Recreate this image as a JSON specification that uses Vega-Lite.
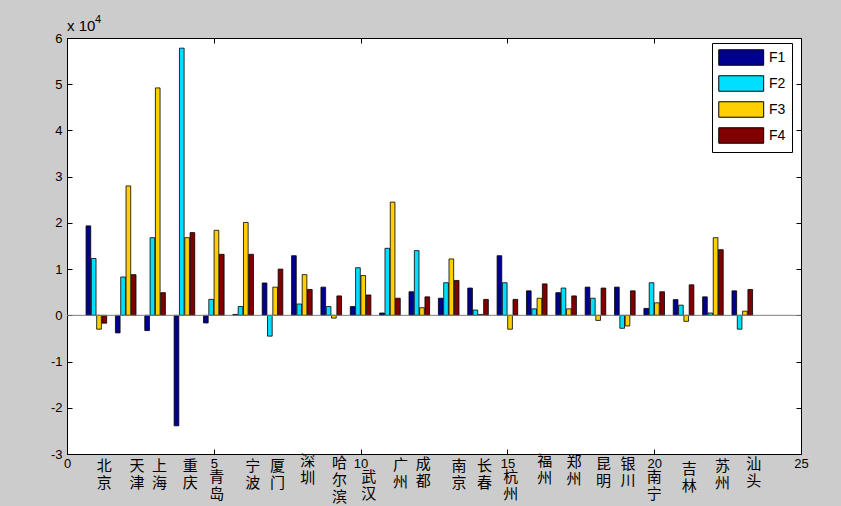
{
  "$schema": "https://vega.github.io/schema/vega-lite/v6.json",
  "width": 734,
  "height": 416,
  "autosize": "none",
  "padding": {"left": 67, "top": 38, "right": 40, "bottom": 52},
  "background": "#cccccc",
  "config": {
    "view": {"stroke": "#000000", "strokeWidth": 1, "fill": "#ffffff"},
    "axis": {"grid": false, "domain": false, "tickColor": "#000000", "tickSize": -5, "labelFont": "Liberation Sans", "labelFontSize": 13, "labelColor": "#000000", "title": null}
  },
  "datasets": {
    "bars": [
      {"city":"北京","pos":1,"series":"F1","value":19350},{"city":"北京","pos":1,"series":"F2","value":12300},{"city":"北京","pos":1,"series":"F3","value":-3000},{"city":"北京","pos":1,"series":"F4","value":-1700},
      {"city":"天津","pos":2,"series":"F1","value":-3800},{"city":"天津","pos":2,"series":"F2","value":8300},{"city":"天津","pos":2,"series":"F3","value":28000},{"city":"天津","pos":2,"series":"F4","value":8800},
      {"city":"上海","pos":3,"series":"F1","value":-3300},{"city":"上海","pos":3,"series":"F2","value":16800},{"city":"上海","pos":3,"series":"F3","value":49200},{"city":"上海","pos":3,"series":"F4","value":4900},
      {"city":"重庆","pos":4,"series":"F1","value":-23900},{"city":"重庆","pos":4,"series":"F2","value":57800},{"city":"重庆","pos":4,"series":"F3","value":16800},{"city":"重庆","pos":4,"series":"F4","value":17900},
      {"city":"青岛","pos":5,"series":"F1","value":-1650},{"city":"青岛","pos":5,"series":"F2","value":3450},{"city":"青岛","pos":5,"series":"F3","value":18400},{"city":"青岛","pos":5,"series":"F4","value":13200},
      {"city":"宁波","pos":6,"series":"F1","value":200},{"city":"宁波","pos":6,"series":"F2","value":1900},{"city":"宁波","pos":6,"series":"F3","value":20100},{"city":"宁波","pos":6,"series":"F4","value":13200},
      {"city":"厦门","pos":7,"series":"F1","value":7000},{"city":"厦门","pos":7,"series":"F2","value":-4500},{"city":"厦门","pos":7,"series":"F3","value":6100},{"city":"厦门","pos":7,"series":"F4","value":10000},
      {"city":"深圳","pos":8,"series":"F1","value":12900},{"city":"深圳","pos":8,"series":"F2","value":2450},{"city":"深圳","pos":8,"series":"F3","value":8800},{"city":"深圳","pos":8,"series":"F4","value":5600},
      {"city":"哈尔滨","pos":9,"series":"F1","value":6100},{"city":"哈尔滨","pos":9,"series":"F2","value":1900},{"city":"哈尔滨","pos":9,"series":"F3","value":-600},{"city":"哈尔滨","pos":9,"series":"F4","value":4200},
      {"city":"武汉","pos":10,"series":"F1","value":1900},{"city":"武汉","pos":10,"series":"F2","value":10300},{"city":"武汉","pos":10,"series":"F3","value":8600},{"city":"武汉","pos":10,"series":"F4","value":4400},
      {"city":"广州","pos":11,"series":"F1","value":500},{"city":"广州","pos":11,"series":"F2","value":14500},{"city":"广州","pos":11,"series":"F3","value":24500},{"city":"广州","pos":11,"series":"F4","value":3700},
      {"city":"成都","pos":12,"series":"F1","value":5100},{"city":"成都","pos":12,"series":"F2","value":14000},{"city":"成都","pos":12,"series":"F3","value":1650},{"city":"成都","pos":12,"series":"F4","value":4000},
      {"city":"南京","pos":13,"series":"F1","value":3700},{"city":"南京","pos":13,"series":"F2","value":7050},{"city":"南京","pos":13,"series":"F3","value":12200},{"city":"南京","pos":13,"series":"F4","value":7550},
      {"city":"长春","pos":14,"series":"F1","value":5900},{"city":"长春","pos":14,"series":"F2","value":1150},{"city":"长春","pos":14,"series":"F3","value":200},{"city":"长春","pos":14,"series":"F4","value":3450},
      {"city":"杭州","pos":15,"series":"F1","value":12900},{"city":"杭州","pos":15,"series":"F2","value":7050},{"city":"杭州","pos":15,"series":"F3","value":-3000},{"city":"杭州","pos":15,"series":"F4","value":3450},
      {"city":"福州","pos":16,"series":"F1","value":5300},{"city":"福州","pos":16,"series":"F2","value":1400},{"city":"福州","pos":16,"series":"F3","value":3700},{"city":"福州","pos":16,"series":"F4","value":6800},
      {"city":"郑州","pos":17,"series":"F1","value":4900},{"city":"郑州","pos":17,"series":"F2","value":5900},{"city":"郑州","pos":17,"series":"F3","value":1400},{"city":"郑州","pos":17,"series":"F4","value":4200},
      {"city":"昆明","pos":18,"series":"F1","value":6100},{"city":"昆明","pos":18,"series":"F2","value":3700},{"city":"昆明","pos":18,"series":"F3","value":-1100},{"city":"昆明","pos":18,"series":"F4","value":5900},
      {"city":"银川","pos":19,"series":"F1","value":6100},{"city":"银川","pos":19,"series":"F2","value":-2800},{"city":"银川","pos":19,"series":"F3","value":-2300},{"city":"银川","pos":19,"series":"F4","value":5300},
      {"city":"南宁","pos":20,"series":"F1","value":1500},{"city":"南宁","pos":20,"series":"F2","value":7050},{"city":"南宁","pos":20,"series":"F3","value":2700},{"city":"南宁","pos":20,"series":"F4","value":5100},
      {"city":"吉林","pos":21,"series":"F1","value":3400},{"city":"吉林","pos":21,"series":"F2","value":2200},{"city":"吉林","pos":21,"series":"F3","value":-1300},{"city":"吉林","pos":21,"series":"F4","value":6600},
      {"city":"苏州","pos":22,"series":"F1","value":4000},{"city":"苏州","pos":22,"series":"F2","value":500},{"city":"苏州","pos":22,"series":"F3","value":16800},{"city":"苏州","pos":22,"series":"F4","value":14200},
      {"city":"汕头","pos":23,"series":"F1","value":5300},{"city":"汕头","pos":23,"series":"F2","value":-3000},{"city":"汕头","pos":23,"series":"F3","value":900},{"city":"汕头","pos":23,"series":"F4","value":5600}
    ],
    "labels": [
      {"label":"北\n京","lx":1.27,"ly":-31100},
      {"label":"天\n津","lx":2.38,"ly":-31100},
      {"label":"上\n海","lx":3.15,"ly":-31100},
      {"label":"重\n庆","lx":4.2,"ly":-31100},
      {"label":"青\n岛","lx":5.1,"ly":-33450},
      {"label":"宁\n波","lx":6.33,"ly":-31100},
      {"label":"厦\n门","lx":7.17,"ly":-31100},
      {"label":"深\n圳","lx":8.2,"ly":-30050},
      {"label":"哈\n尔\n滨","lx":9.28,"ly":-30430},
      {"label":"武\n汉","lx":10.28,"ly":-33450},
      {"label":"广\n州","lx":11.36,"ly":-30870},
      {"label":"成\n都","lx":12.13,"ly":-30580},
      {"label":"南\n京","lx":13.35,"ly":-31100},
      {"label":"长\n春","lx":14.22,"ly":-31100},
      {"label":"杭\n州","lx":15.11,"ly":-33450},
      {"label":"福\n州","lx":16.27,"ly":-30050},
      {"label":"郑\n州","lx":17.27,"ly":-30220},
      {"label":"昆\n明","lx":18.27,"ly":-30580},
      {"label":"银\n川","lx":19.11,"ly":-30580},
      {"label":"南\n宁","lx":20.0,"ly":-33450},
      {"label":"吉\n林","lx":21.19,"ly":-31670},
      {"label":"苏\n州","lx":22.33,"ly":-31100},
      {"label":"汕\n头","lx":23.39,"ly":-30580}
    ]
  },
  "layer": [
    {
      "data": {"name": "bars"},
      "mark": {"type": "bar", "stroke": "#000000", "strokeWidth": 0.8},
      "encoding": {
        "x": {"field": "pos", "type": "ordinal", "axis": null,
              "scale": {"type": "band", "domain": [1,2,3,4,5,6,7,8,9,10,11,12,13,14,15,16,17,18,19,20,21,22,23], "paddingInner": 0, "paddingOuter": 1, "align": 0.25}},
        "xOffset": {"field": "series", "type": "nominal", "scale": {"paddingInner": 0.12, "paddingOuter": 0.825}},
        "y": {"field": "value", "type": "quantitative", "axis": null, "scale": {"domain": [-30000, 60000], "nice": false, "zero": false}},
        "color": {"field": "series", "type": "nominal",
                  "scale": {"domain": ["F1","F2","F3","F4"], "range": ["#00008f","#00dfff","#ffcf00","#800000"]},
                  "legend": {"title": null, "orient": "none", "legendX": 645, "legendY": 5,
                             "symbolType": "M-1,-1H4.8V1H-1Z", "symbolSize": 240, "symbolStrokeColor": "#000000", "symbolStrokeWidth": 1, "symbolOpacity": 1,
                             "labelFont": "Liberation Sans", "labelFontSize": 14, "labelColor": "#000000", "labelOffset": 34,
                             "padding": 6, "strokeColor": "#000000", "fillColor": "#ffffff", "rowPadding": 5}}
      }
    },
    {
      "data": {"values": [{}]},
      "mark": {"type": "rule", "color": "#7f7f7f", "strokeWidth": 1},
      "encoding": {"y": {"datum": 0, "type": "quantitative", "scale": {"domain": [-30000, 60000], "nice": false, "zero": false}, "axis": null}}
    },
    {
      "data": {"values": [{"t": "x 10"}]},
      "mark": {"type": "text", "font": "Liberation Sans", "fontSize": 15, "align": "left", "baseline": "alphabetic", "dx": 0, "dy": -7, "color": "#000000"},
      "encoding": {
        "x": {"datum": 0, "type": "quantitative", "scale": {"domain": [0, 25], "nice": false, "zero": false}, "axis": null},
        "y": {"datum": 60000, "type": "quantitative", "scale": {"domain": [-30000, 60000], "nice": false, "zero": false}, "axis": null},
        "text": {"field": "t"}
      }
    },
    {
      "data": {"values": [{"t": "4"}]},
      "mark": {"type": "text", "font": "Liberation Sans", "fontSize": 11, "align": "left", "baseline": "alphabetic", "dx": 28, "dy": -15, "color": "#000000"},
      "encoding": {
        "x": {"datum": 0, "type": "quantitative", "scale": {"domain": [0, 25], "nice": false, "zero": false}, "axis": null},
        "y": {"datum": 60000, "type": "quantitative", "scale": {"domain": [-30000, 60000], "nice": false, "zero": false}, "axis": null},
        "text": {"field": "t"}
      }
    },
    {
      "data": {"name": "labels"},
      "mark": {"type": "text", "font": "Noto Sans CJK SC", "fontSize": 15, "lineBreak": "\n", "lineHeight": 17, "align": "center", "baseline": "top", "color": "#000000"},
      "encoding": {
        "x": {"field": "lx", "type": "quantitative", "scale": {"domain": [0, 25], "nice": false, "zero": false},
              "axis": {"orient": "bottom", "values": [0,5,10,15,20,25], "labelPadding": 8, "labelFlush": false}},
        "y": {"field": "ly", "type": "quantitative", "scale": {"domain": [-30000, 60000], "nice": false, "zero": false},
              "axis": {"orient": "left", "values": [-30000,-20000,-10000,0,10000,20000,30000,40000,50000,60000], "labelExpr": "datum.value/10000", "labelPadding": 10, "labelFlush": false}},
        "text": {"field": "label"}
      }
    },
    {
      "data": {"name": "labels"},
      "mark": {"type": "point", "opacity": 0},
      "encoding": {
        "x": {"field": "lx", "type": "quantitative", "scale": {"domain": [0, 25], "nice": false, "zero": false},
              "axis": {"orient": "top", "values": [0,5,10,15,20,25], "labels": false}},
        "y": {"field": "ly", "type": "quantitative", "scale": {"domain": [-30000, 60000], "nice": false, "zero": false},
              "axis": {"orient": "right", "values": [-30000,-20000,-10000,0,10000,20000,30000,40000,50000,60000], "labels": false}}
      }
    }
  ],
  "resolve": {"scale": {"x": "independent", "y": "independent"}, "axis": {"x": "independent", "y": "independent"}}
}
